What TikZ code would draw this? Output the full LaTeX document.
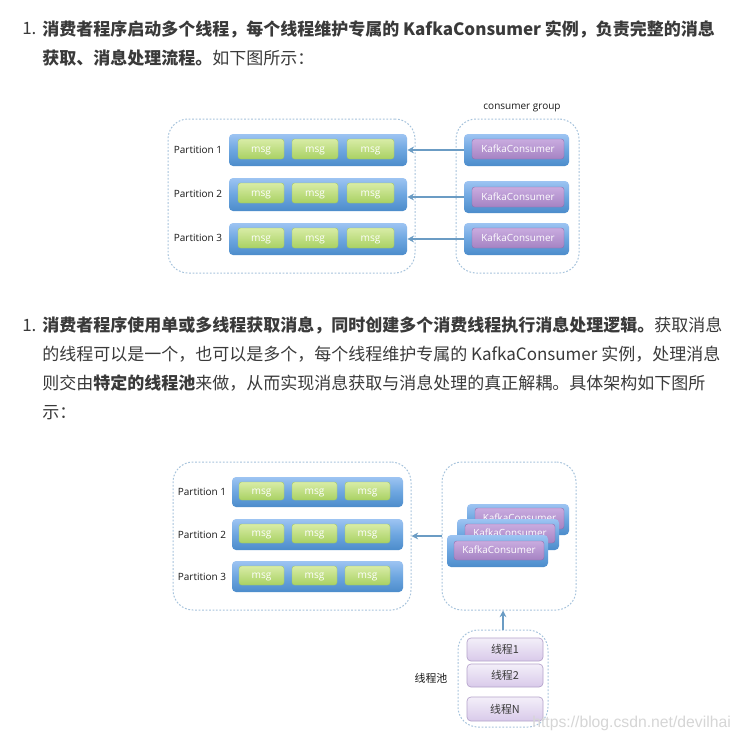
\documentclass[tikz,border=0pt]{standalone}
\usepackage{fontspec}
\setmainfont{Noto Sans CJK SC}
\newfontfamily\lat{Open Sans}
\newfontfamily\wm{Liberation Sans}
\usetikzlibrary{arrows.meta}
\newcommand{\fwc}{\symbol{"FF0C}}
\newcommand{\fwk}{\symbol{"FF1A}}
\definecolor{txt}{HTML}{3A3A3A}
\definecolor{dotc}{HTML}{A6C3DC}
\definecolor{arrowc}{HTML}{6B9CC4}
\definecolor{msgline}{HTML}{A3C766}
\definecolor{purpline}{HTML}{8E6FAE}
\definecolor{thline}{HTML}{B5A3CB}
\definecolor{msgtop}{HTML}{D8ECA6}
\definecolor{msgbot}{HTML}{A9D163}
\definecolor{purptop}{HTML}{C9ABDF}
\definecolor{purpbot}{HTML}{A583C3}
\definecolor{thtop}{HTML}{F3EFF9}
\definecolor{thbot}{HTML}{D9CAEA}
\definecolor{bartop}{HTML}{9DC4F2}
\definecolor{barbot}{HTML}{4C8CCB}
\definecolor{barmid}{HTML}{6DA6E0}
\tikzset{
 x=0.75pt,y=-0.75pt,
 outerbox/.style={draw=dotc,line width=0.75pt,dash pattern=on 1.3pt off 1.3pt,rounded corners=15pt,fill=white},
 bluebar/.style={rounded corners=3pt,draw=none,top color=bartop,bottom color=barbot,middle color=barmid},
 msgbox/.style={rounded corners=2pt,draw=msgline,line width=.3pt,top color=msgtop,bottom color=msgbot,text=white,font=\lat\fontsize{7.6pt}{9pt}\selectfont,text height=4.6pt,text depth=0pt},
 purplebox/.style={rounded corners=2pt,draw=purpline,line width=.3pt,top color=purptop,bottom color=purpbot,text=white,font=\lat\fontsize{7.4pt}{9pt}\selectfont,text height=4.8pt,text depth=0pt},
 threadbox/.style={rounded corners=3pt,draw=thline,line width=.5pt,top color=thtop,bottom color=thbot,text=txt,font=\fontsize{8.2pt}{10pt}\selectfont},
 plabel/.style={text=black!90,font=\lat\fontsize{7.5pt}{9pt}\selectfont,inner sep=0pt},
 maintext/.style={anchor=base west,inner sep=0pt,text=txt,font=\fontsize{12.75pt}{15pt}\selectfont},
 link/.style={draw=arrowc,line width=1.1pt,-{Stealth[length=5pt,width=5pt]}},
}
\newcommand{\bx}[7]{\node[#2,inner sep=0pt,minimum width={(#5-#3)*0.75pt},minimum height={(#6-#4)*0.75pt}] (#1) at ({(#3+#5)/2},{(#4+#6)/2}) {#7};}
\begin{document}
\begin{tikzpicture}
\useasboundingbox (0,0) rectangle (740,742);
\fill[white] (0,0) rectangle (740,742);
% first text
\node[maintext] (n1) at (22,35) {1.};
\node[maintext] (t1) at (42,35.5) {\textbf{消费者程序启动多个线程\fwc 每个线程维护专属的 KafkaConsumer 实例\fwc 负责完整的消息}};
\node[maintext] (t2) at (42,64.5) {\textbf{获取、消息处理流程。}如下图所示\fwk};
% first figure
\bx{ol1}{outerbox}{168}{119}{415}{273}{}
\bx{or1}{outerbox}{456}{119}{579}{273}{}
\node[plabel] (cg) at (522,108) {consumer group};
\bx{bar1}{bluebar}{229}{134}{407}{166}{}
\bx{bar2}{bluebar}{229}{178}{407}{211}{}
\bx{bar3}{bluebar}{229}{223}{407}{255}{}
\node[plabel] (pa1) at (198,150) {Partition 1};
\node[plabel] (pa2) at (198,194) {Partition 2};
\node[plabel] (pa3) at (198,238) {Partition 3};
\bx{m11}{msgbox}{238}{139}{284}{159}{msg}
\bx{m12}{msgbox}{292}{139}{338}{159}{msg}
\bx{m13}{msgbox}{347}{139}{394}{159}{msg}
\bx{m21}{msgbox}{238}{183}{284}{203}{msg}
\bx{m22}{msgbox}{292}{183}{338}{203}{msg}
\bx{m23}{msgbox}{347}{183}{394}{203}{msg}
\bx{m31}{msgbox}{238}{228}{284}{248}{msg}
\bx{m32}{msgbox}{292}{228}{338}{248}{msg}
\bx{m33}{msgbox}{347}{228}{394}{248}{msg}
\bx{c1}{bluebar}{464}{134}{569}{166}{}
\bx{c2}{bluebar}{464}{181}{569}{213}{}
\bx{c3}{bluebar}{464}{223}{569}{255}{}
\bx{k1}{purplebox}{472}{139}{564}{159}{KafkaConsumer}
\bx{k2}{purplebox}{472}{187}{564}{207}{KafkaConsumer}
\bx{k3}{purplebox}{472}{228}{564}{248}{KafkaConsumer}
\draw[link] (c1.west) -- (c1.west -| bar1.east);
\draw[link] (c2.west) -- (c2.west -| bar2.east);
\draw[link] (c3.west) -- (c3.west -| bar3.east);
% second text
\node[maintext] (n2) at (22,331) {1.};
\node[maintext] (t3) at (42,331) {\textbf{消费者程序使用单或多线程获取消息\fwc 同时创建多个消费线程执行消息处理逻辑。}获取消息};
\node[maintext] (t4) at (42,360) {的线程可以是一个\fwc 也可以是多个\fwc 每个线程维护专属的 KafkaConsumer 实例\fwc 处理消息};
\node[maintext] (t5) at (42,389) {则交由\textbf{特定的线程池}来做\fwc 从而实现消息获取与消息处理的真正解耦。具体架构如下图所};
\node[maintext] (t6) at (42,418) {示\fwk};
% second figure
\bx{ol2}{outerbox}{173}{462}{411}{610}{}
\bx{or2}{outerbox}{442}{462}{576}{610}{}
\bx{pbar1}{bluebar}{232}{477}{403}{507}{}
\bx{pbar2}{bluebar}{232}{519}{403}{550}{}
\bx{pbar3}{bluebar}{232}{561}{403}{592}{}
\node[plabel] (pb1) at (202,492) {Partition 1};
\node[plabel] (pb2) at (202,535) {Partition 2};
\node[plabel] (pb3) at (202,577) {Partition 3};
\bx{n11}{msgbox}{239}{482}{284}{500}{msg}
\bx{n12}{msgbox}{292}{482}{337}{500}{msg}
\bx{n13}{msgbox}{345}{482}{390}{500}{msg}
\bx{n21}{msgbox}{239}{524}{284}{543}{msg}
\bx{n22}{msgbox}{292}{524}{337}{543}{msg}
\bx{n23}{msgbox}{345}{524}{390}{543}{msg}
\bx{n31}{msgbox}{239}{566}{284}{585}{msg}
\bx{n32}{msgbox}{292}{566}{337}{585}{msg}
\bx{n33}{msgbox}{345}{566}{390}{585}{msg}
\bx{s3}{bluebar}{467}{504}{569}{535}{}
\bx{q3}{purplebox}{475}{508}{564}{529}{KafkaConsumer}
\bx{s2}{bluebar}{457}{519}{559}{550}{}
\bx{q2}{purplebox}{465}{524}{555}{543}{KafkaConsumer}
\bx{s1}{bluebar}{447}{535}{548}{567}{}
\bx{q1}{purplebox}{454}{541}{544}{560}{KafkaConsumer}
\draw[link] (or2.west) -- (ol2.east);
% thread pool
\bx{pool}{outerbox}{458}{630}{548}{727}{}
\bx{th1}{threadbox}{467}{638}{543}{661}{线程1}
\bx{th2}{threadbox}{467}{664}{543}{687}{线程2}
\bx{thn}{threadbox}{467}{697}{543}{721}{线程N}
\node[plabel,font=\fontsize{8.2pt}{10pt}\selectfont] (pl) at (431,678) {线程池};
\draw[link] (pool.north) -- (pool.north |- or2.south);
\node[anchor=west,inner sep=0pt,text=black!16,font=\wm\fontsize{11.8pt}{14pt}\selectfont] (wmk) at (532,723) {https://blog.csdn.net/devilhai};
\end{tikzpicture}
\end{document}
